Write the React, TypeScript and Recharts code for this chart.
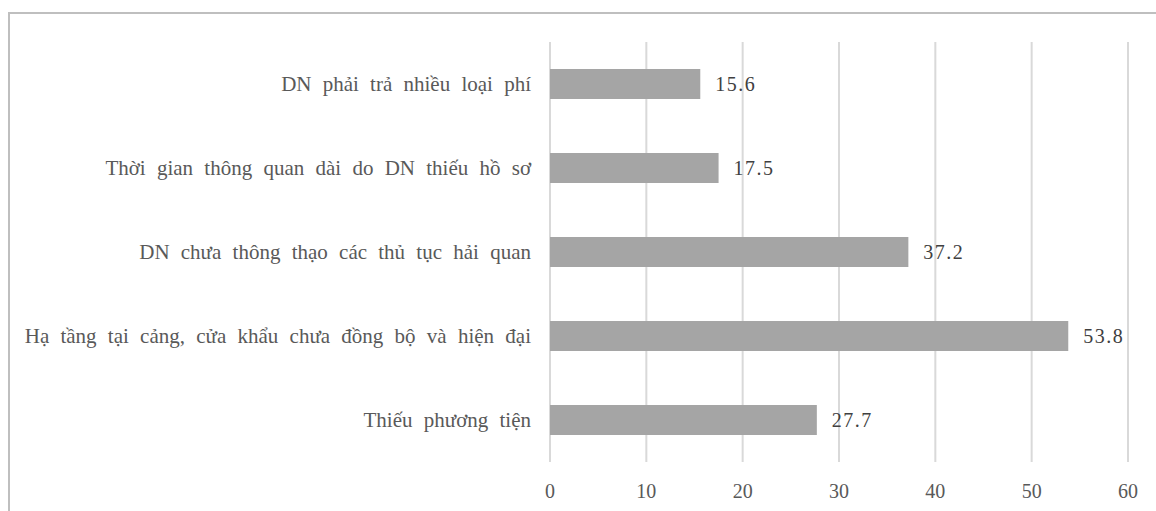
import React from 'react';
import { BarChart, Bar, XAxis, YAxis, CartesianGrid, LabelList } from 'recharts';

const categories = [
  'DN phải trả nhiều loại phí',
  'Thời gian thông quan dài do DN thiếu hồ sơ',
  'DN chưa thông thạo các thủ tục hải quan',
  'Hạ tầng tại cảng, cửa khẩu chưa đồng bộ và hiện đại',
  'Thiếu phương tiện',
];
const values = [15.6, 17.5, 37.2, 53.8, 27.7];
const xTicks = [0, 10, 20, 30, 40, 50, 60];

const data = categories.map((name, i) => ({ name, value: values[i] }));

const FONT = '"Liberation Serif", "Times New Roman", serif';

// category labels, right-aligned against the plot with wide word gaps
const CategoryTick = ({ x, y, payload }: any) => (
  <text
    x={x}
    y={y}
    dy="0.355em"
    textAnchor="end"
    fill="#595959"
    fontSize={21}
    fontFamily={FONT}
    style={{ wordSpacing: 6 }}
  >
    {payload.value}
  </text>
);

export default function App() {
  return (
    <div style={{ position: 'absolute', left: 0, top: 0, width: 1156, height: 511, overflow: 'hidden', background: '#fff' }}>
      {/* frame around the chart, cut off at the right and bottom */}
      <div
        style={{
          position: 'absolute',
          left: 8,
          top: 12,
          width: 1200,
          height: 560,
          borderTop: '2px solid #bfbfbf',
          borderLeft: '2px solid #bfbfbf',
        }}
      />
      <div style={{ position: 'absolute', left: 0, top: 0 }}>
        <BarChart
          width={1156}
          height={511}
          data={data}
          layout="vertical"
          margin={{ top: 42, right: 28, bottom: 19, left: 0 }}
          barCategoryGap={0}
        >
          <CartesianGrid horizontal={false} stroke="#d9d9d9" strokeWidth={2} />
          <XAxis
            type="number"
            domain={[0, 60]}
            ticks={xTicks}
            axisLine={false}
            tickLine={false}
            tickSize={0}
            tickMargin={22}
            height={30}
            tick={{ fill: '#595959', fontSize: 20, fontFamily: FONT }}
          />
          <YAxis
            type="category"
            dataKey="name"
            width={550}
            axisLine={false}
            tickLine={false}
            tickSize={0}
            tickMargin={19}
            interval={0}
            tick={<CategoryTick />}
          />
          <Bar dataKey="value" fill="#a5a5a5" barSize={30} isAnimationActive={false}>
            <LabelList
              dataKey="value"
              position="right"
              offset={15}
              fill="#404040"
              fontSize={20}
              fontFamily={FONT}
              letterSpacing={1.5}
            />
          </Bar>
        </BarChart>
      </div>
    </div>
  );
}
